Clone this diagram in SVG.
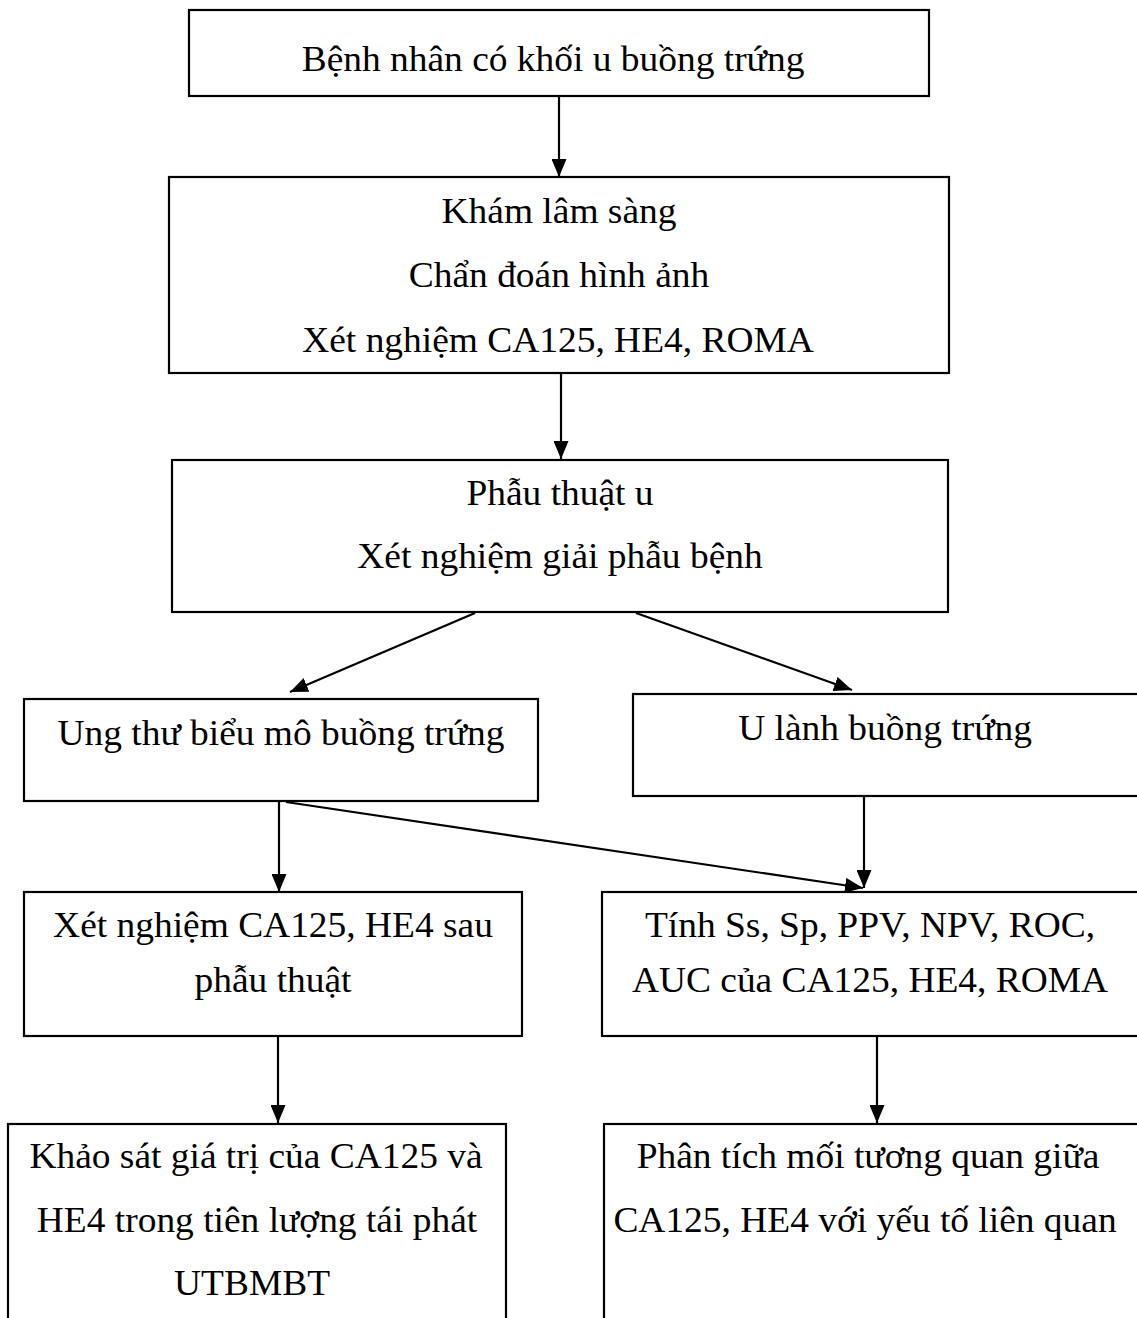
<svg xmlns="http://www.w3.org/2000/svg" width="1137" height="1318" viewBox="0 0 1137 1318">
<style>
.box{fill:#fff;stroke:#000;stroke-width:2.2}
.t{font-family:"Liberation Serif","Times New Roman",serif;font-size:36px;fill:#000;text-anchor:middle}
.c{stroke:#000;stroke-width:2.2;fill:none;marker-end:url(#ah)}
</style>
<defs>
<marker id="ah" markerUnits="userSpaceOnUse" viewBox="0 0 18 15" refX="18" refY="7.5" markerWidth="18" markerHeight="15" orient="auto">
<path d="M0,0 L18,7.5 L0,15 z" fill="#000"/>
</marker>
</defs>
<rect width="1137" height="1318" fill="#fff"/>
<g id="connectors">
<line class="c" x1="559" y1="96" x2="559" y2="177"/>
<line class="c" x1="561" y1="374" x2="561" y2="459"/>
<line class="c" x1="475" y1="613" x2="290" y2="692"/>
<line class="c" x1="636" y1="613" x2="852" y2="690"/>
<line class="c" x1="279" y1="802" x2="279" y2="892"/>
<line class="c" x1="286" y1="802" x2="863" y2="888"/>
<line class="c" x1="864" y1="797" x2="864" y2="888"/>
<line class="c" x1="278" y1="1037" x2="278" y2="1123"/>
<line class="c" x1="877" y1="1037" x2="877" y2="1123"/>
</g>
<g id="n1">
<rect class="box" x="189" y="10" width="740" height="86"/>
<text class="t" transform="translate(553,71) scale(1.04,1)">Bệnh nhân có khối u buồng trứng</text>
</g>
<g id="n2">
<rect class="box" x="169" y="177" width="780" height="196"/>
<text class="t" transform="translate(559,223) scale(1.04,1)">Khám lâm sàng</text>
<text class="t" transform="translate(559,287) scale(1.04,1)">Chẩn đoán hình ảnh</text>
<text class="t" transform="translate(558,352) scale(1.04,1)">Xét nghiệm CA125, HE4, ROMA</text>
</g>
<g id="n3">
<rect class="box" x="172" y="460" width="776" height="152"/>
<text class="t" transform="translate(560,505) scale(1.04,1)">Phẫu thuật u</text>
<text class="t" transform="translate(560,568) scale(1.04,1)">Xét nghiệm giải phẫu bệnh</text>
</g>
<g id="n4">
<rect class="box" x="24" y="699" width="514" height="102"/>
<text class="t" transform="translate(281,745) scale(1.04,1)">Ung thư biểu mô buồng trứng</text>
</g>
<g id="n5">
<rect class="box" x="633" y="694" width="512" height="102"/>
<text class="t" transform="translate(885,740) scale(1.04,1)">U lành buồng trứng</text>
</g>
<g id="n6">
<rect class="box" x="24" y="892" width="498" height="144"/>
<text class="t" transform="translate(273,937) scale(1.04,1)">Xét nghiệm CA125, HE4 sau</text>
<text class="t" transform="translate(273,992) scale(1.04,1)">phẫu thuật</text>
</g>
<g id="n7">
<rect class="box" x="602" y="892" width="542" height="144"/>
<text class="t" transform="translate(870,937) scale(1.04,1)">Tính Ss, Sp, PPV, NPV, ROC,</text>
<text class="t" transform="translate(870,992) scale(1.04,1)">AUC của CA125, HE4, ROMA</text>
</g>
<g id="n8">
<rect class="box" x="8" y="1124" width="498" height="220"/>
<text class="t" transform="translate(256,1168) scale(1.04,1)">Khảo sát giá trị của CA125 và</text>
<text class="t" transform="translate(257,1232) scale(1.04,1)">HE4 trong tiên lượng tái phát</text>
<text class="t" transform="translate(252,1295) scale(1.04,1)">UTBMBT</text>
</g>
<g id="n9">
<rect class="box" x="604" y="1124" width="542" height="220"/>
<text class="t" transform="translate(868,1168) scale(1.04,1)">Phân tích mối tương quan giữa</text>
<text class="t" transform="translate(865,1232) scale(1.04,1)">CA125, HE4 với yếu tố liên quan</text>
</g>
</svg>
